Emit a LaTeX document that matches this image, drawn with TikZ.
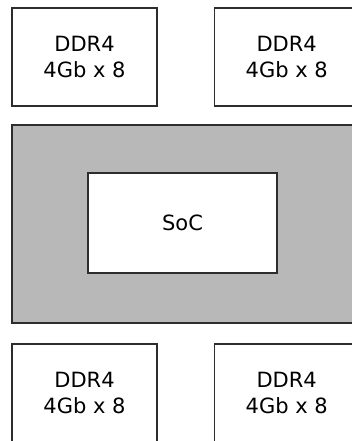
\documentclass[tikz,border=0pt]{standalone}
\usepackage{fontspec}
\setmainfont{DejaVu Sans}
\usepackage{xcolor}
\usetikzlibrary{positioning}
\definecolor{boardgray}{RGB}{184, 184, 184}
\definecolor{edgedark}{RGB}{45, 45, 45}

\begin{document}
\begin{tikzpicture}[
  x=1pt, y=-1pt,
  board/.style={rectangle, draw=edgedark, fill=boardgray, line width=1.2pt,
                minimum width=346pt, minimum height=198pt},
  chip/.style={rectangle, draw=edgedark, fill=white, line width=1.2pt,
               minimum width=189pt, minimum height=100pt, align=center,
               font=\fontsize{21}{26}\selectfont},
  mem/.style={rectangle, draw=edgedark, fill=white, line width=1.2pt,
              minimum width=145pt, minimum height=98pt, align=center,
              font=\fontsize{21}{26}\selectfont},
]
  \useasboundingbox (0,0) rectangle (352,441);
  \clip (0,0) rectangle (352,441);

  % SoC on the board
  \node[board] (board) at (185,224) {};
  \node[chip] (soc) at (182.5,223) {SoC};

  % DDR4 above
  \node[mem] (ddrtl) at (84.5,57) {DDR4\\4Gb x 8};
  \node[mem, right=56pt of ddrtl] (ddrtr) {DDR4\\4Gb x 8};

  % DDR4 below
  \node[mem] (ddrbl) at (84.5,393) {DDR4\\4Gb x 8};
  \node[mem, right=56pt of ddrbl] (ddrbr) {DDR4\\4Gb x 8};
\end{tikzpicture}
\end{document}
